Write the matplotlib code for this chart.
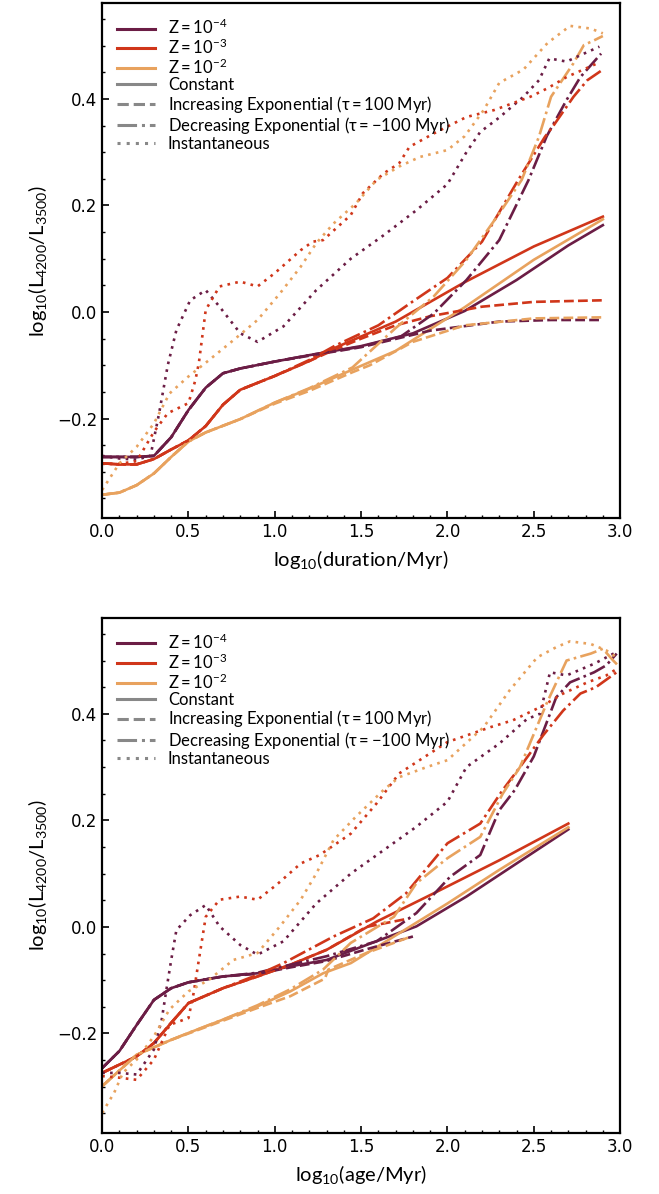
import matplotlib
matplotlib.use("Agg")
import matplotlib.pyplot as plt
from matplotlib.lines import Line2D
from matplotlib.ticker import MultipleLocator

plt.rcParams["mathtext.fontset"] = "custom"
plt.rcParams["mathtext.rm"] = "Lato"
plt.rcParams["mathtext.it"] = "Lato:italic"
plt.rcParams["mathtext.default"] = "regular"

colors = {"z4": "#6b1d45", "z3": "#d0361a", "z2": "#e8a25e"}
dotted = (0, (1, 2))

# ---- top panel: vs log10(duration/Myr) ----
dur_const_z4_x = [0, 0.1, 0.2, 0.3, 0.4, 0.5, 0.6, 0.7, 0.8, 1.0, 1.2, 1.5, 1.8, 2.1, 2.4, 2.7, 2.9]
dur_const_z4_y = [-0.272, -0.272, -0.272, -0.270, -0.235, -0.184, -0.142, -0.115, -0.106, -0.093, -0.081,
                  -0.064, -0.040, 0.002, 0.060, 0.125, 0.163]
dur_const_z3_x = [0, 0.1, 0.2, 0.3, 0.4, 0.5, 0.6, 0.7, 0.8, 1.0, 1.2, 1.35, 1.7, 2.1, 2.5, 2.9]
dur_const_z3_y = [-0.284, -0.286, -0.286, -0.276, -0.258, -0.241, -0.214, -0.174, -0.146, -0.120, -0.092,
                  -0.067, -0.018, 0.056, 0.123, 0.179]
dur_const_z2_x = [0, 0.1, 0.2, 0.3, 0.4, 0.5, 0.6, 0.8, 1.0, 1.2, 1.45, 1.7, 2.1, 2.5, 2.9]
dur_const_z2_y = [-0.343, -0.339, -0.325, -0.303, -0.272, -0.243, -0.226, -0.201, -0.170, -0.144, -0.108,
                  -0.073, 0.009, 0.098, 0.174]

dur_incr_z4_x = [0, 0.1, 0.2, 0.3, 0.4, 0.5, 0.6, 0.7, 0.8, 1.0, 1.2, 1.5, 1.9, 2.3, 2.6, 2.9]
dur_incr_z4_y = [-0.272, -0.272, -0.272, -0.270, -0.235, -0.184, -0.142, -0.115, -0.106, -0.093, -0.082,
                 -0.066, -0.035, -0.018, -0.015, -0.015]
dur_incr_z3_x = [0, 0.1, 0.2, 0.3, 0.4, 0.5, 0.6, 0.7, 0.8, 1.0, 1.2, 1.35, 1.5, 1.7, 1.9, 2.2, 2.5, 2.9]
dur_incr_z3_y = [-0.284, -0.286, -0.286, -0.276, -0.258, -0.241, -0.214, -0.174, -0.146, -0.120, -0.092,
                 -0.070, -0.050, -0.025, -0.008, 0.010, 0.019, 0.022]
dur_incr_z2_x = [0, 0.1, 0.2, 0.3, 0.4, 0.5, 0.6, 0.8, 1.0, 1.2, 1.45, 1.55, 1.8, 2.1, 2.5, 2.9]
dur_incr_z2_y = [-0.343, -0.339, -0.325, -0.303, -0.272, -0.243, -0.226, -0.201, -0.172, -0.148, -0.113,
                 -0.100, -0.056, -0.025, -0.012, -0.010]

dur_decr_z4_x = [0, 0.1, 0.2, 0.3, 0.4, 0.5, 0.6, 0.7, 0.8, 1.0, 1.2, 1.5, 1.73, 1.92, 2.11, 2.3, 2.47,
                 2.575, 2.69, 2.77, 2.89]
dur_decr_z4_y = [-0.272, -0.272, -0.272, -0.270, -0.235, -0.184, -0.142, -0.115, -0.106, -0.093, -0.081,
                 -0.065, -0.046, -0.003, 0.060, 0.135, 0.248, 0.330, 0.398, 0.441, 0.485]
dur_decr_z3_x = [0, 0.1, 0.2, 0.3, 0.4, 0.5, 0.6, 0.7, 0.8, 1.0, 1.2, 1.35, 1.6, 1.8, 2.0, 2.2, 2.41,
                 2.565, 2.61, 2.73, 2.81, 2.9]
dur_decr_z3_y = [-0.284, -0.286, -0.286, -0.276, -0.258, -0.241, -0.214, -0.174, -0.146, -0.120, -0.090,
                 -0.063, -0.025, 0.020, 0.064, 0.132, 0.248, 0.329, 0.348, 0.404, 0.435, 0.455]
dur_decr_z2_x = [0, 0.1, 0.2, 0.3, 0.4, 0.5, 0.6, 0.8, 1.0, 1.2, 1.45, 1.7, 1.92, 2.11, 2.3, 2.43, 2.53,
                 2.6, 2.73, 2.79, 2.85, 2.9]
dur_decr_z2_y = [-0.343, -0.339, -0.325, -0.303, -0.272, -0.243, -0.226, -0.201, -0.170, -0.143, -0.104,
                 -0.030, 0.029, 0.098, 0.185, 0.248, 0.329, 0.404, 0.467, 0.501, 0.510, 0.518]

dur_inst_z4_x = [0, 0.1, 0.2, 0.28, 0.33, 0.38, 0.43, 0.51, 0.6, 0.68, 0.8, 0.9, 1.05, 1.24, 1.44, 1.63,
                 1.82, 2.0, 2.11, 2.19, 2.3, 2.44, 2.53, 2.59, 2.69, 2.77, 2.88]
dur_inst_z4_y = [-0.270, -0.275, -0.277, -0.270, -0.190, -0.100, -0.034, 0.022, 0.041, 0.010, -0.040, -0.056,
                 -0.027, 0.041, 0.100, 0.144, 0.191, 0.240, 0.300, 0.338, 0.365, 0.404, 0.435, 0.476, 0.470,
                 0.482, 0.498]
dur_inst_z3_x = [0, 0.1, 0.2, 0.3, 0.38, 0.5, 0.54, 0.56, 0.6, 0.68, 0.8, 0.9, 1.0, 1.15, 1.22, 1.28, 1.44,
                 1.51, 1.63, 1.72, 1.78, 1.92, 2.11, 2.27, 2.48, 2.58, 2.69, 2.87]
dur_inst_z3_y = [-0.285, -0.285, -0.280, -0.225, -0.190, -0.171, -0.128, -0.096, 0.004, 0.048, 0.057, 0.048,
                 0.073, 0.116, 0.132, 0.135, 0.182, 0.223, 0.260, 0.279, 0.310, 0.335, 0.366, 0.379, 0.404,
                 0.420, 0.441, 0.467]
dur_inst_z2_x = [0, 0.1, 0.2, 0.3, 0.39, 0.5, 0.62, 0.76, 0.9, 1.03, 1.15, 1.24, 1.34, 1.47, 1.59, 1.72,
                 1.84, 2.0, 2.1, 2.21, 2.3, 2.44, 2.58, 2.71, 2.83, 2.9]
dur_inst_z2_y = [-0.334, -0.284, -0.253, -0.209, -0.153, -0.121, -0.090, -0.053, -0.015, 0.035, 0.085, 0.129,
                 0.166, 0.204, 0.248, 0.273, 0.291, 0.304, 0.330, 0.379, 0.430, 0.455, 0.505, 0.537, 0.532,
                 0.523]

# ---- bottom panel: vs log10(age/Myr) ----
age_const_z4_x = [0, 0.1, 0.2, 0.3, 0.4, 0.5, 0.7, 0.9, 1.09, 1.3, 1.53, 1.82, 2.11, 2.4, 2.7]
age_const_z4_y = [-0.265, -0.233, -0.184, -0.137, -0.115, -0.104, -0.093, -0.087, -0.074, -0.062, -0.034,
                  0.001, 0.057, 0.119, 0.183]
age_const_z3_x = [0, 0.2, 0.3, 0.4, 0.5, 0.7, 0.9, 1.09, 1.3, 1.59, 1.92, 2.3, 2.7]
age_const_z3_y = [-0.274, -0.243, -0.218, -0.180, -0.143, -0.115, -0.093, -0.071, -0.043, 0.010, 0.063,
                  0.125, 0.194]
age_const_z2_x = [0, 0.2, 0.4, 0.5, 0.7, 0.9, 1.09, 1.28, 1.44, 1.72, 2.0, 2.3, 2.7]
age_const_z2_y = [-0.299, -0.240, -0.212, -0.199, -0.174, -0.149, -0.121, -0.087, -0.068, -0.012, 0.044,
                  0.107, 0.187]

age_incr_z4_x = [0, 0.1, 0.2, 0.3, 0.4, 0.5, 0.7, 0.9, 1.09, 1.3, 1.53, 1.8]
age_incr_z4_y = [-0.265, -0.233, -0.184, -0.137, -0.115, -0.104, -0.093, -0.088, -0.076, -0.064, -0.042,
                 -0.018]
age_incr_z3_x = [0, 0.2, 0.3, 0.4, 0.5, 0.7, 0.9, 1.09, 1.3, 1.53, 1.78]
age_incr_z3_y = [-0.274, -0.243, -0.218, -0.180, -0.143, -0.115, -0.093, -0.071, -0.043, 0.000, 0.016]
age_incr_z2_x = [0, 0.2, 0.4, 0.5, 0.7, 0.9, 1.09, 1.29, 1.31, 1.53, 1.79]
age_incr_z2_y = [-0.299, -0.240, -0.212, -0.200, -0.176, -0.152, -0.130, -0.097, -0.080, -0.049, -0.018]

age_decr_z4_x = [0, 0.1, 0.2, 0.3, 0.4, 0.5, 0.7, 0.9, 1.09, 1.3, 1.59, 1.82, 2.015, 2.19, 2.3, 2.39, 2.5,
                 2.63, 2.71, 2.85, 2.92, 2.98]
age_decr_z4_y = [-0.265, -0.233, -0.184, -0.137, -0.115, -0.104, -0.093, -0.086, -0.071, -0.055, -0.027,
                 0.026, 0.094, 0.135, 0.219, 0.257, 0.320, 0.431, 0.459, 0.478, 0.491, 0.513]
age_decr_z3_x = [0, 0.2, 0.3, 0.4, 0.5, 0.7, 0.9, 1.05, 1.34, 1.57, 1.76, 2.0, 2.19, 2.32, 2.42, 2.555,
                 2.67, 2.77, 2.86, 2.98]
age_decr_z3_y = [-0.274, -0.243, -0.218, -0.180, -0.143, -0.115, -0.090, -0.068, -0.018, 0.016, 0.063,
                 0.157, 0.194, 0.257, 0.300, 0.360, 0.406, 0.438, 0.450, 0.478]
age_decr_z2_x = [0, 0.2, 0.4, 0.5, 0.7, 0.9, 1.09, 1.28, 1.44, 1.69, 1.82, 2.0, 2.19, 2.32, 2.42, 2.575,
                 2.69, 2.83, 2.9, 2.96, 2.99]
age_decr_z2_y = [-0.299, -0.240, -0.212, -0.199, -0.174, -0.147, -0.117, -0.080, -0.030, 0.019, 0.082,
                 0.129, 0.169, 0.250, 0.300, 0.420, 0.500, 0.513, 0.522, 0.500, 0.490]

age_inst_z4_x = [0, 0.1, 0.2, 0.3, 0.345, 0.375, 0.4, 0.43, 0.51, 0.6, 0.68, 0.8, 0.9, 1.05, 1.24, 1.44,
                 1.63, 1.82, 2.0, 2.11, 2.3, 2.46, 2.536, 2.594, 2.69, 2.85, 2.98]
age_inst_z4_y = [-0.274, -0.274, -0.277, -0.230, -0.174, -0.112, -0.062, -0.006, 0.022, 0.041, 0.001, -0.034,
                 -0.052, -0.027, 0.044, 0.100, 0.144, 0.188, 0.235, 0.300, 0.344, 0.390, 0.400, 0.478,
                 0.472, 0.494, 0.516]
age_inst_z3_x = [0, 0.1, 0.2, 0.3, 0.39, 0.5, 0.53, 0.56, 0.6, 0.68, 0.8, 0.9, 1.01, 1.15, 1.26, 1.44, 1.59,
                 1.72, 2.0, 2.25, 2.38, 2.54, 2.67, 2.81, 2.92, 2.98]
age_inst_z3_y = [-0.280, -0.283, -0.287, -0.249, -0.184, -0.171, -0.124, -0.062, 0.019, 0.051, 0.057, 0.051,
                 0.079, 0.119, 0.135, 0.175, 0.232, 0.288, 0.347, 0.375, 0.388, 0.413, 0.438, 0.459, 0.472,
                 0.484]
age_inst_z2_x = [0, 0.07, 0.12, 0.2, 0.3, 0.39, 0.5, 0.62, 0.76, 0.9, 1.03, 1.15, 1.24, 1.34, 1.47, 1.63,
                 1.72, 1.88, 2.0, 2.21, 2.36, 2.52, 2.63, 2.71, 2.83, 2.92, 2.98]
age_inst_z2_y = [-0.349, -0.311, -0.274, -0.249, -0.205, -0.155, -0.121, -0.099, -0.062, -0.049, 0.001,
                 0.051, 0.100, 0.163, 0.207, 0.257, 0.281, 0.300, 0.313, 0.375, 0.444, 0.506, 0.525, 0.536,
                 0.531, 0.519, 0.506]

z_labels = [r"$Z = 10^{-4}$", r"$Z = 10^{-3}$", r"$Z = 10^{-2}$"]
sfh_labels = ["Constant", r"Increasing Exponential ($\tau = 100$ Myr)",
              r"Decreasing Exponential ($\tau = -100$ Myr)", "Instantaneous"]
styles = ["-", "--", "-.", dotted]

top_curves = [
    (dur_const_z4_x, dur_const_z4_y, "z4", "-"), (dur_const_z3_x, dur_const_z3_y, "z3", "-"),
    (dur_const_z2_x, dur_const_z2_y, "z2", "-"),
    (dur_incr_z4_x, dur_incr_z4_y, "z4", "--"), (dur_incr_z3_x, dur_incr_z3_y, "z3", "--"),
    (dur_incr_z2_x, dur_incr_z2_y, "z2", "--"),
    (dur_decr_z4_x, dur_decr_z4_y, "z4", "-."), (dur_decr_z3_x, dur_decr_z3_y, "z3", "-."),
    (dur_decr_z2_x, dur_decr_z2_y, "z2", "-."),
    (dur_inst_z4_x, dur_inst_z4_y, "z4", dotted), (dur_inst_z3_x, dur_inst_z3_y, "z3", dotted),
    (dur_inst_z2_x, dur_inst_z2_y, "z2", dotted),
]
bottom_curves = [
    (age_const_z4_x, age_const_z4_y, "z4", "-"), (age_const_z3_x, age_const_z3_y, "z3", "-"),
    (age_const_z2_x, age_const_z2_y, "z2", "-"),
    (age_incr_z4_x, age_incr_z4_y, "z4", "--"), (age_incr_z3_x, age_incr_z3_y, "z3", "--"),
    (age_incr_z2_x, age_incr_z2_y, "z2", "--"),
    (age_decr_z4_x, age_decr_z4_y, "z4", "-."), (age_decr_z3_x, age_decr_z3_y, "z3", "-."),
    (age_decr_z2_x, age_decr_z2_y, "z2", "-."),
    (age_inst_z4_x, age_inst_z4_y, "z4", dotted), (age_inst_z3_x, age_inst_z3_y, "z3", dotted),
    (age_inst_z2_x, age_inst_z2_y, "z2", dotted),
]


def draw_panel(ax, curves, xlabel):
    for x, y, z, ls in curves:
        ax.plot(x, y, color=colors[z], ls=ls, lw=1.9)
    ax.set_xlim(0, 3.0)
    ax.set_ylim(-0.387, 0.58)
    ax.xaxis.set_major_locator(MultipleLocator(0.5))
    ax.xaxis.set_minor_locator(MultipleLocator(0.1))
    ax.yaxis.set_major_locator(MultipleLocator(0.2))
    ax.yaxis.set_minor_locator(MultipleLocator(0.05))
    ax.tick_params(which="both", direction="in", top=False, right=False, labelsize=12)
    ax.tick_params(which="major", length=5, width=1.2)
    ax.tick_params(which="minor", length=2.5, width=1)
    for s in ax.spines.values():
        s.set_linewidth(1.6)
    ax.set_xlabel(xlabel, fontsize=14.5, family="Lato", labelpad=5)
    ax.set_ylabel(r"log$_{10}$(L$_{4200}$/L$_{3500}$)", fontsize=14.5, family="Lato", labelpad=6)

    handles = [Line2D([], [], color=colors[z], lw=2.2) for z in ["z4", "z3", "z2"]]
    handles += [Line2D([], [], color="#888888", ls=ls, lw=2.2) for ls in styles]
    ax.legend(handles, z_labels + sfh_labels, loc="upper left", frameon=False,
              prop={"family": "Lato", "size": 12}, handlelength=2.3, handletextpad=0.75,
              labelspacing=0.02, borderaxespad=0.5)


fig = plt.figure(figsize=(6.59, 11.94), dpi=100)
ax1 = fig.add_axes([0.155, 0.566, 0.786, 0.4315])
ax2 = fig.add_axes([0.155, 0.051, 0.786, 0.4315])
draw_panel(ax1, top_curves, r"log$_{10}$(duration/Myr)")
draw_panel(ax2, bottom_curves, r"log$_{10}$(age/Myr)")

fig.savefig("out.png", dpi=100)
